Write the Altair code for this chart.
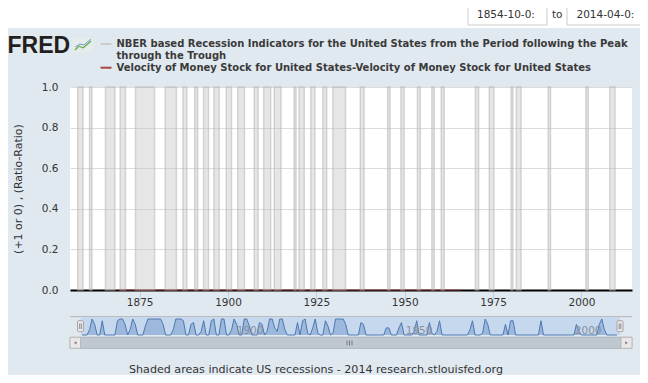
import altair as alt
import pandas as pd
import numpy as np

# ---------------- data ----------------
peaks = ["1857-06", "1860-10", "1865-04", "1869-06", "1873-10", "1882-03", "1887-03",
         "1890-07", "1893-01", "1895-12", "1899-06", "1902-09", "1907-05", "1910-01",
         "1913-01", "1918-08", "1920-01", "1923-05", "1926-10", "1929-08", "1937-05",
         "1945-02", "1948-11", "1953-07", "1957-08", "1960-04", "1969-12", "1973-11",
         "1980-01", "1981-07", "1990-07", "2001-03", "2007-12"]
troughs = ["1858-12", "1861-06", "1867-12", "1870-12", "1879-03", "1885-05", "1888-04",
           "1891-05", "1894-06", "1897-06", "1900-12", "1904-08", "1908-06", "1912-01",
           "1914-12", "1919-03", "1921-07", "1924-07", "1927-11", "1933-03", "1938-06",
           "1945-10", "1949-10", "1954-05", "1958-04", "1961-02", "1970-11", "1975-03",
           "1980-07", "1982-11", "1991-03", "2001-11", "2009-06"]

velocity_years = [1869, 1966]
velocity_values = [0.0, 0.0]

main_ticks = [1875, 1900, 1925, 1950, 1975, 2000]
nav_ticks = [1900, 1950, 2000]
y_ticks = [0.0, 0.1, 0.2, 0.3, 0.4, 0.5, 0.6, 0.7, 0.8, 0.9, 1.0]

legend_1a = "NBER based Recession Indicators for the United States from the Period following the Peak"
legend_1b = "through the Trough"
legend_2 = "Velocity of Money Stock for United States-Velocity of Money Stock for United States"
y_title = "(+1 or 0) , (Ratio-Ratio)"
footer = "Shaded areas indicate US recessions - 2014 research.stlouisfed.org"
date_from = "1854-10-0:"
date_to = "2014-04-0:"


def ym(s):
    y, m = s.split("-")
    return int(y) + int(m) / 12.0


starts = [ym(p) for p in peaks]
ends = [ym(t) for t in troughs]
rec_df = pd.DataFrame({"start": starts, "end": ends, "lo": 0.0, "hi": 1.0})
vel_df = pd.DataFrame({"year": velocity_years, "v": velocity_values})

# navigator series: recession indicator grouped into bins
w = 0.75
edges = np.arange(1854.75, 2014.25 + 1e-9, w)
nav_x, nav_v = [], []
for a in edges[:-1]:
    b = a + w
    cov = sum(max(0.0, min(b, e) - max(a, s)) for s, e in zip(starts, ends))
    nav_x.append(a + w / 2)
    nav_v.append(min(1.0, cov / w))
nav_df = pd.DataFrame({"x": nav_x, "v": nav_v})

FONT = "DejaVu Sans"
one = pd.DataFrame({"k": [0]})


def box(x1, x2, y1, y2, fill, stroke=None, sw=1, radius=0):
    kw = dict(fill=fill, cornerRadius=radius)
    if stroke:
        kw.update(stroke=stroke, strokeWidth=sw)
    return alt.Chart(one).mark_rect(**kw).encode(
        x=alt.value(x1), x2=alt.value(x2), y=alt.value(y1), y2=alt.value(y2))


def seg(x1, y1, x2, y2, color, sw=1):
    return alt.Chart(one).mark_rule(color=color, strokeWidth=sw).encode(
        x=alt.value(x1), x2=alt.value(x2), y=alt.value(y1), y2=alt.value(y2))


def label(txt, x, y, size=10, color="#333333", weight="normal", align="left",
          baseline="middle", font=FONT):
    return alt.Chart(one).mark_text(
        text=txt, fontSize=size, color=color, fontWeight=weight, align=align,
        baseline=baseline, font=font).encode(x=alt.value(x), y=alt.value(y))


# ---------------- decorations (top) ----------------
decor = [
    box(-62, 570, -79, -59, "white"),
    box(398, 477, -80, -62, "white", "#cccccc"),
    label(date_from, 407, -72.5, size=10.5),
    label("to", 482, -72.5, size=10.5),
    box(497, 576, -80, -62, "white", "#cccccc"),
    label(date_to, 506.5, -72.5, size=10.5),
    label("FRED", -62.5, -34, size=23, color="#231f20", weight="bold",
          baseline="alphabetic", font="Liberation Sans"),
    box(3, 23, -49, -34, "#e6ecea"),
    seg(5, -37, 9, -41, "#6aa84f", 1.2), seg(9, -41, 13, -39, "#6aa84f", 1.2),
    seg(13, -39, 21, -46, "#6aa84f", 1.2),
    seg(5, -40, 10, -43, "#6f9fd8", 1), seg(10, -43, 14, -42, "#6f9fd8", 1),
    seg(14, -42, 21, -48, "#6f9fd8", 1),
    seg(30.5, -43, 41.5, -43, "#cccccc", 2),
    label(legend_1a, 46.5, -43.5, size=10, weight="bold", color="#3a3a3a"),
    label(legend_1b, 46.5, -31.5, size=10, weight="bold", color="#3a3a3a"),
    seg(30.5, -19.3, 41.5, -19.3, "#AA4643", 2),
    label(legend_2, 46.5, -19.5, size=10, weight="bold", color="#3a3a3a"),
]

# ---------------- main plot ----------------
xs = alt.Scale(domain=[1855.3, 2014.3], nice=False, zero=False)
ys = alt.Scale(domain=[0, 1], nice=False)

bars = alt.Chart(rec_df).mark_rect(
    fill="#c4c4c4", fillOpacity=0.42, stroke="#b8b8b8", strokeOpacity=0.55, strokeWidth=1.5
).encode(
    x=alt.X("start:Q", scale=xs, axis=alt.Axis(
        values=main_ticks, format="d", grid=False, domainColor="#000000", domainWidth=2,
        tickColor="#c0d0e0", tickSize=10, tickWidth=1, labelColor="#333333",
        labelFont=FONT, labelFontSize=10.5, labelBaseline="alphabetic", labelPadding=5,
        title=None, labelFlush=False)),
    x2="end:Q",
    y=alt.Y("lo:Q", scale=ys, axis=alt.Axis(
        values=y_ticks, format=".1f", grid=True, gridColor="#dcdcdc", gridWidth=1,
        domain=False, ticks=False, labelPadding=12, labelColor="#333333", labelFont=FONT,
        labelFontSize=10.5, title=y_title, titleX=-52, titleY=101.5, titleAngle=270,
        titleFontWeight="normal", titleFontSize=11, titleColor="#333333", titleFont=FONT,
        titleAlign="center", titleBaseline="middle")),
    y2="hi:Q",
)

vel = alt.Chart(vel_df).mark_line(color="#AA4643", strokeWidth=2, opacity=0.35).encode(
    x=alt.X("year:Q", scale=xs), y=alt.Y("v:Q", scale=ys))

main = alt.layer(bars, vel)

# ---------------- navigator ----------------
nxs = alt.Scale(domain=[1854.75, 2014.25], range=[10.7, 550], nice=False, zero=False)
nys = alt.Scale(domain=[0, 1], range=[248, 232], nice=False)

nav_area = alt.Chart(nav_df).mark_area(
    color="#8aabd6", line={"color": "#4d78b0", "strokeWidth": 1}
).encode(x=alt.X("x:Q", scale=nxs, axis=None), y=alt.Y("v:Q", scale=nys, axis=None))

nav_lab = alt.Chart(pd.DataFrame({"t": nav_ticks})).mark_text(
    align="left", baseline="middle", dx=3, fontSize=10.5, font=FONT, color="#8a919c"
).encode(x=alt.X("t:Q", scale=nxs, axis=None), y=alt.value(243.5), text=alt.Text("t:Q", format="d"))

nav = alt.layer(nav_area, nav_lab)

nav_bg = [
    seg(0, 229.7, 562, 229.7, "#b2b1b6", 1),
    box(10.7, 550, 230.3, 248, "#c5d8ee"),
]
nav_fg = [
    box(7.5, 13.5, 233.7, 244.7, "#ebe7e8", "#a6a5aa", 1, 1),
    seg(9.7, 236.5, 9.7, 242, "#8c8c8c", 1), seg(11.3, 236.5, 11.3, 242, "#8c8c8c", 1),
    box(547, 553, 233.7, 244.7, "#ebe7e8", "#a6a5aa", 1, 1),
    seg(549.2, 236.5, 549.2, 242, "#8c8c8c", 1), seg(550.8, 236.5, 550.8, 242, "#8c8c8c", 1),
    # scrollbar
    box(0, 562, 250.3, 261.3, "#eeeeee", "#bbbbbb"),
    box(10.5, 551, 250.3, 261.3, "#bfc8d1", "#b0b8c0"),
    box(0, 10.5, 250.3, 261.3, "#ebe7e8", "#bbbbbb"),
    box(551, 562, 250.3, 261.3, "#ebe7e8", "#bbbbbb"),
    alt.Chart(one).mark_point(shape="triangle-left", filled=True, size=10, color="#555555").encode(
        x=alt.value(5.2), y=alt.value(255.8)),
    alt.Chart(one).mark_point(shape="triangle-right", filled=True, size=10, color="#555555").encode(
        x=alt.value(556.5), y=alt.value(255.8)),
    seg(277, 253.5, 277, 258.5, "#777777", 1), seg(279.5, 253.5, 279.5, 258.5, "#777777", 1),
    seg(282, 253.5, 282, 258.5, "#777777", 1),
    label(footer, 246, 286, size=11.1, align="center", baseline="alphabetic"),
]

chart = alt.layer(
    *decor, main, *nav_bg, nav, *nav_fg
).resolve_scale(
    x="independent", y="independent"
).properties(
    width=562, height=203,
    autosize=alt.AutoSizeParams(type="none"),
    padding={"left": 62, "top": 79, "right": 8, "bottom": 85},
    background="#e1e9f0",
).configure_view(strokeWidth=0, fill="white")

chart.save("out.html", embed_options={"renderer": "svg", "actions": False})
